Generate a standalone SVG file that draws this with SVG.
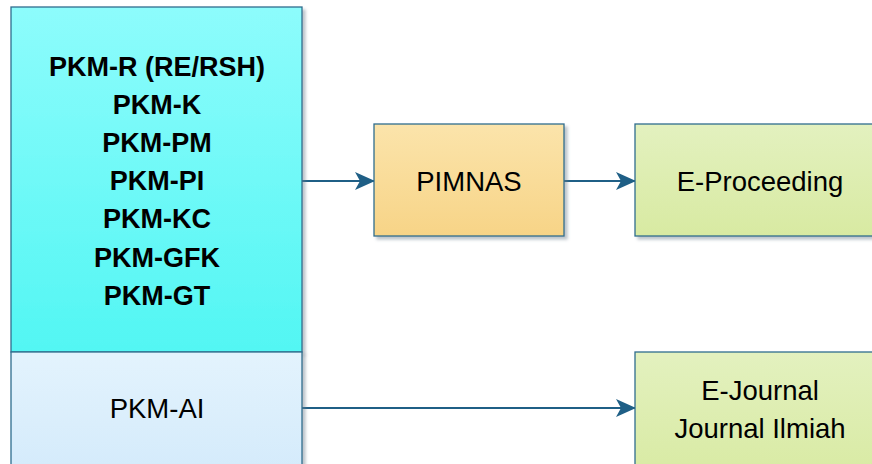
<svg xmlns="http://www.w3.org/2000/svg" width="872" height="464" viewBox="0 0 872 464">
<style>
.box{stroke:#2e6d8e;stroke-width:1.3;filter:url(#sh)}
.t{font-family:"Liberation Sans",Arial,sans-serif;fill:#000;text-anchor:middle}
.b{font-weight:bold;font-size:27px}
.r{font-size:27.5px}
.c{stroke:#1f5f86;stroke-width:2.2;fill:none;marker-end:url(#ah)}
</style>
<defs>
<linearGradient id="gc" x1="0" y1="0" x2="0" y2="1"><stop offset="0" stop-color="#8dfcfc"/><stop offset="1" stop-color="#52f6f3"/></linearGradient>
<linearGradient id="gb" x1="0" y1="0" x2="0" y2="1"><stop offset="0" stop-color="#e3f3fd"/><stop offset="1" stop-color="#d3eafb"/></linearGradient>
<linearGradient id="go" x1="0" y1="0" x2="0" y2="1"><stop offset="0" stop-color="#fbe4ab"/><stop offset="1" stop-color="#f7d487"/></linearGradient>
<linearGradient id="gg" x1="0" y1="0" x2="0" y2="1"><stop offset="0" stop-color="#e3f1bf"/><stop offset="1" stop-color="#d8eaa2"/></linearGradient>
<filter id="sh" x="-10%" y="-10%" width="130%" height="130%"><feDropShadow dx="3" dy="3" stdDeviation="1.5" flood-color="#6a7f8c" flood-opacity="0.45"/></filter>
<marker id="ah" markerWidth="20" markerHeight="18" refX="19" refY="9" orient="auto" markerUnits="userSpaceOnUse" viewBox="0 0 20 18"><path d="M0,0 L20,9 L0,18 L5,9 Z" fill="#1f5f86"/></marker>
</defs>
<g id="connectors">
<path class="c" d="M302,181 H374"/>
<path class="c" d="M564,181 H635"/>
<path class="c" d="M302,408 H635"/>
</g>
<g id="pkm-group">
<rect class="box" x="11" y="7" width="291" height="345" fill="url(#gc)"/>
<text class="t b" x="157" y="76">PKM-R (RE/RSH)</text>
<text class="t b" x="157" y="114">PKM-K</text>
<text class="t b" x="157" y="152">PKM-PM</text>
<text class="t b" x="157" y="190">PKM-PI</text>
<text class="t b" x="157" y="228">PKM-KC</text>
<text class="t b" x="157" y="267">PKM-GFK</text>
<text class="t b" x="157" y="305">PKM-GT</text>
</g>
<g id="pkm-ai">
<rect class="box" x="11" y="352" width="291" height="130" fill="url(#gb)"/>
<text class="t r" x="157" y="418">PKM-AI</text>
</g>
<g id="pimnas">
<rect class="box" x="374" y="124" width="190" height="112" fill="url(#go)"/>
<text class="t r" x="469" y="191">PIMNAS</text>
</g>
<g id="e-proceeding">
<rect class="box" x="635" y="124" width="250" height="112" fill="url(#gg)"/>
<text class="t r" x="760" y="191">E-Proceeding</text>
</g>
<g id="e-journal">
<rect class="box" x="635" y="352" width="250" height="130" fill="url(#gg)"/>
<text class="t r" x="760" y="400">E-Journal</text>
<text class="t r" x="760" y="438">Journal Ilmiah</text>
</g>
</svg>
